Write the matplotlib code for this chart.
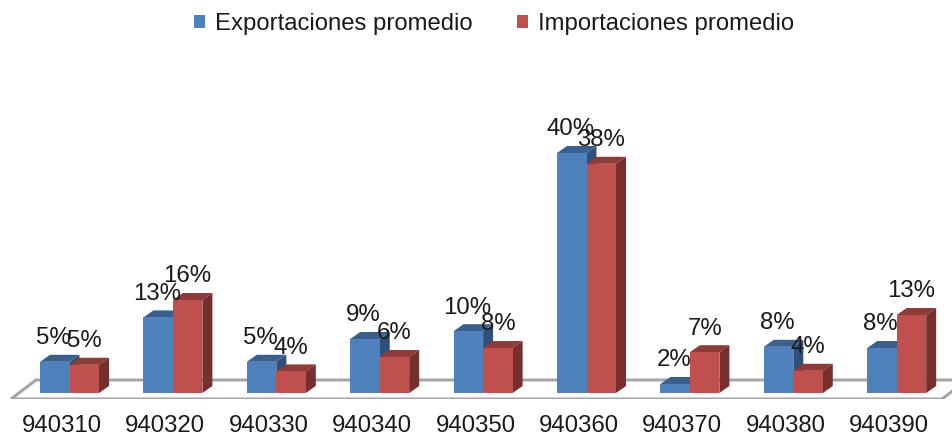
import numpy as np
import matplotlib
matplotlib.use('Agg')
import matplotlib.pyplot as plt
from matplotlib.patches import Polygon, Patch

plt.rcParams['font.family'] = ['Liberation Sans', 'DejaVu Sans']

# Data
categories = ['940310', '940320', '940330', '940340', '940350',
              '940360', '940370', '940380', '940390']
series_names = ['Exportaciones promedio', 'Importaciones promedio']
exports = [5.2, 12.6, 5.2, 9.0, 10.3, 40.0, 1.5, 7.7, 7.5]
imports = [4.7, 15.5, 3.6, 6.0, 7.5, 38.2, 6.8, 3.7, 13.0]
export_labels = ['5%', '13%', '5%', '9%', '10%', '40%', '2%', '8%', '8%']
import_labels = ['5%', '16%', '4%', '6%', '8%', '38%', '7%', '4%', '13%']

W, H = 952, 437
PX_CAT = 103.4   # pixels per category
PX_PCT = 6.0     # pixels per percent
BASE_PX = 393
FLOOR_PX = 399

bar_w = 29.5 / PX_CAT
shift = 7.5 / PX_CAT  # bars sit a bit right of the tick labels
dx = 10 / PX_CAT      # fake 3d depth
dy = 7 / PX_PCT

fig = plt.figure(figsize=(W / 100, H / 100), dpi=100)
ax = fig.add_axes([0, (H - FLOOR_PX) / H, 1, FLOOR_PX / H])
ax.set_xlim(-62 / PX_CAT, (W - 62) / PX_CAT)
ax.set_ylim((BASE_PX - FLOOR_PX) / PX_PCT, BASE_PX / PX_PCT)
for s in ax.spines.values():
    s.set_visible(False)
ax.set_yticks([])


def px_x(p):
    return (p - 62) / PX_CAT


def px_y(p):
    return (BASE_PX - p) / PX_PCT


# floor of the 3d chart
floor = [(px_x(11), px_y(399)), (px_x(36), px_y(380)), (px_x(967), px_y(380)), (px_x(942), px_y(399))]
ax.add_patch(Polygon(floor, closed=True, fc='white', ec='#a6a6a6', lw=2.2, zorder=1, clip_on=True))


def draw_bar(x0, val, front, top, side, z):
    ax.bar(x0, val, width=bar_w, align='edge', color=front, zorder=z + 0.2)
    x1 = x0 + bar_w
    ax.add_patch(Polygon([(x0, val), (x0 + dx, val + dy), (x1 + dx, val + dy), (x1, val)],
                         closed=True, fc=top, ec='none', zorder=z))
    ax.add_patch(Polygon([(x1, 0), (x1 + dx, dy), (x1 + dx, val + dy), (x1, val)],
                         closed=True, fc=side, ec='none', zorder=z))


x = np.arange(len(categories))
for i in x:
    edge = i + shift
    draw_bar(edge - bar_w, exports[i], '#4F81BD', '#3A5F8C', '#30507A', 2 + i)
    draw_bar(edge, imports[i], '#C0504D', '#8E3B39', '#772F2D', 2.5 + i)

for i in x:
    ax.annotate(export_labels[i], (i + shift - bar_w / 2, exports[i]), xytext=(-1, 17),
                textcoords='offset points', ha='center', va='center',
                fontsize=17.3, color='#1a1a1a', zorder=50)
    ax.annotate(import_labels[i], (i + shift + bar_w / 2, imports[i]), xytext=(0, 17),
                textcoords='offset points', ha='center', va='center',
                fontsize=17.3, color='#1a1a1a', zorder=50)

ax.set_xticks(x)
ax.set_xticklabels(categories, fontsize=17.3, color='#1a1a1a')
ax.tick_params(axis='x', length=0, pad=11.2)

handles = [Patch(fc='#4F81BD', ec='none'), Patch(fc='#C0504D', ec='none')]
fig.legend(handles, series_names, ncol=2, loc='center', bbox_to_anchor=(494 / W, 1 - 24 / H),
           frameon=False, fontsize=17.2, handlelength=0.45, handleheight=0.45,
           handletextpad=0.4, columnspacing=1.88, labelcolor='#1a1a1a')

fig.savefig('out.png', dpi=100)
